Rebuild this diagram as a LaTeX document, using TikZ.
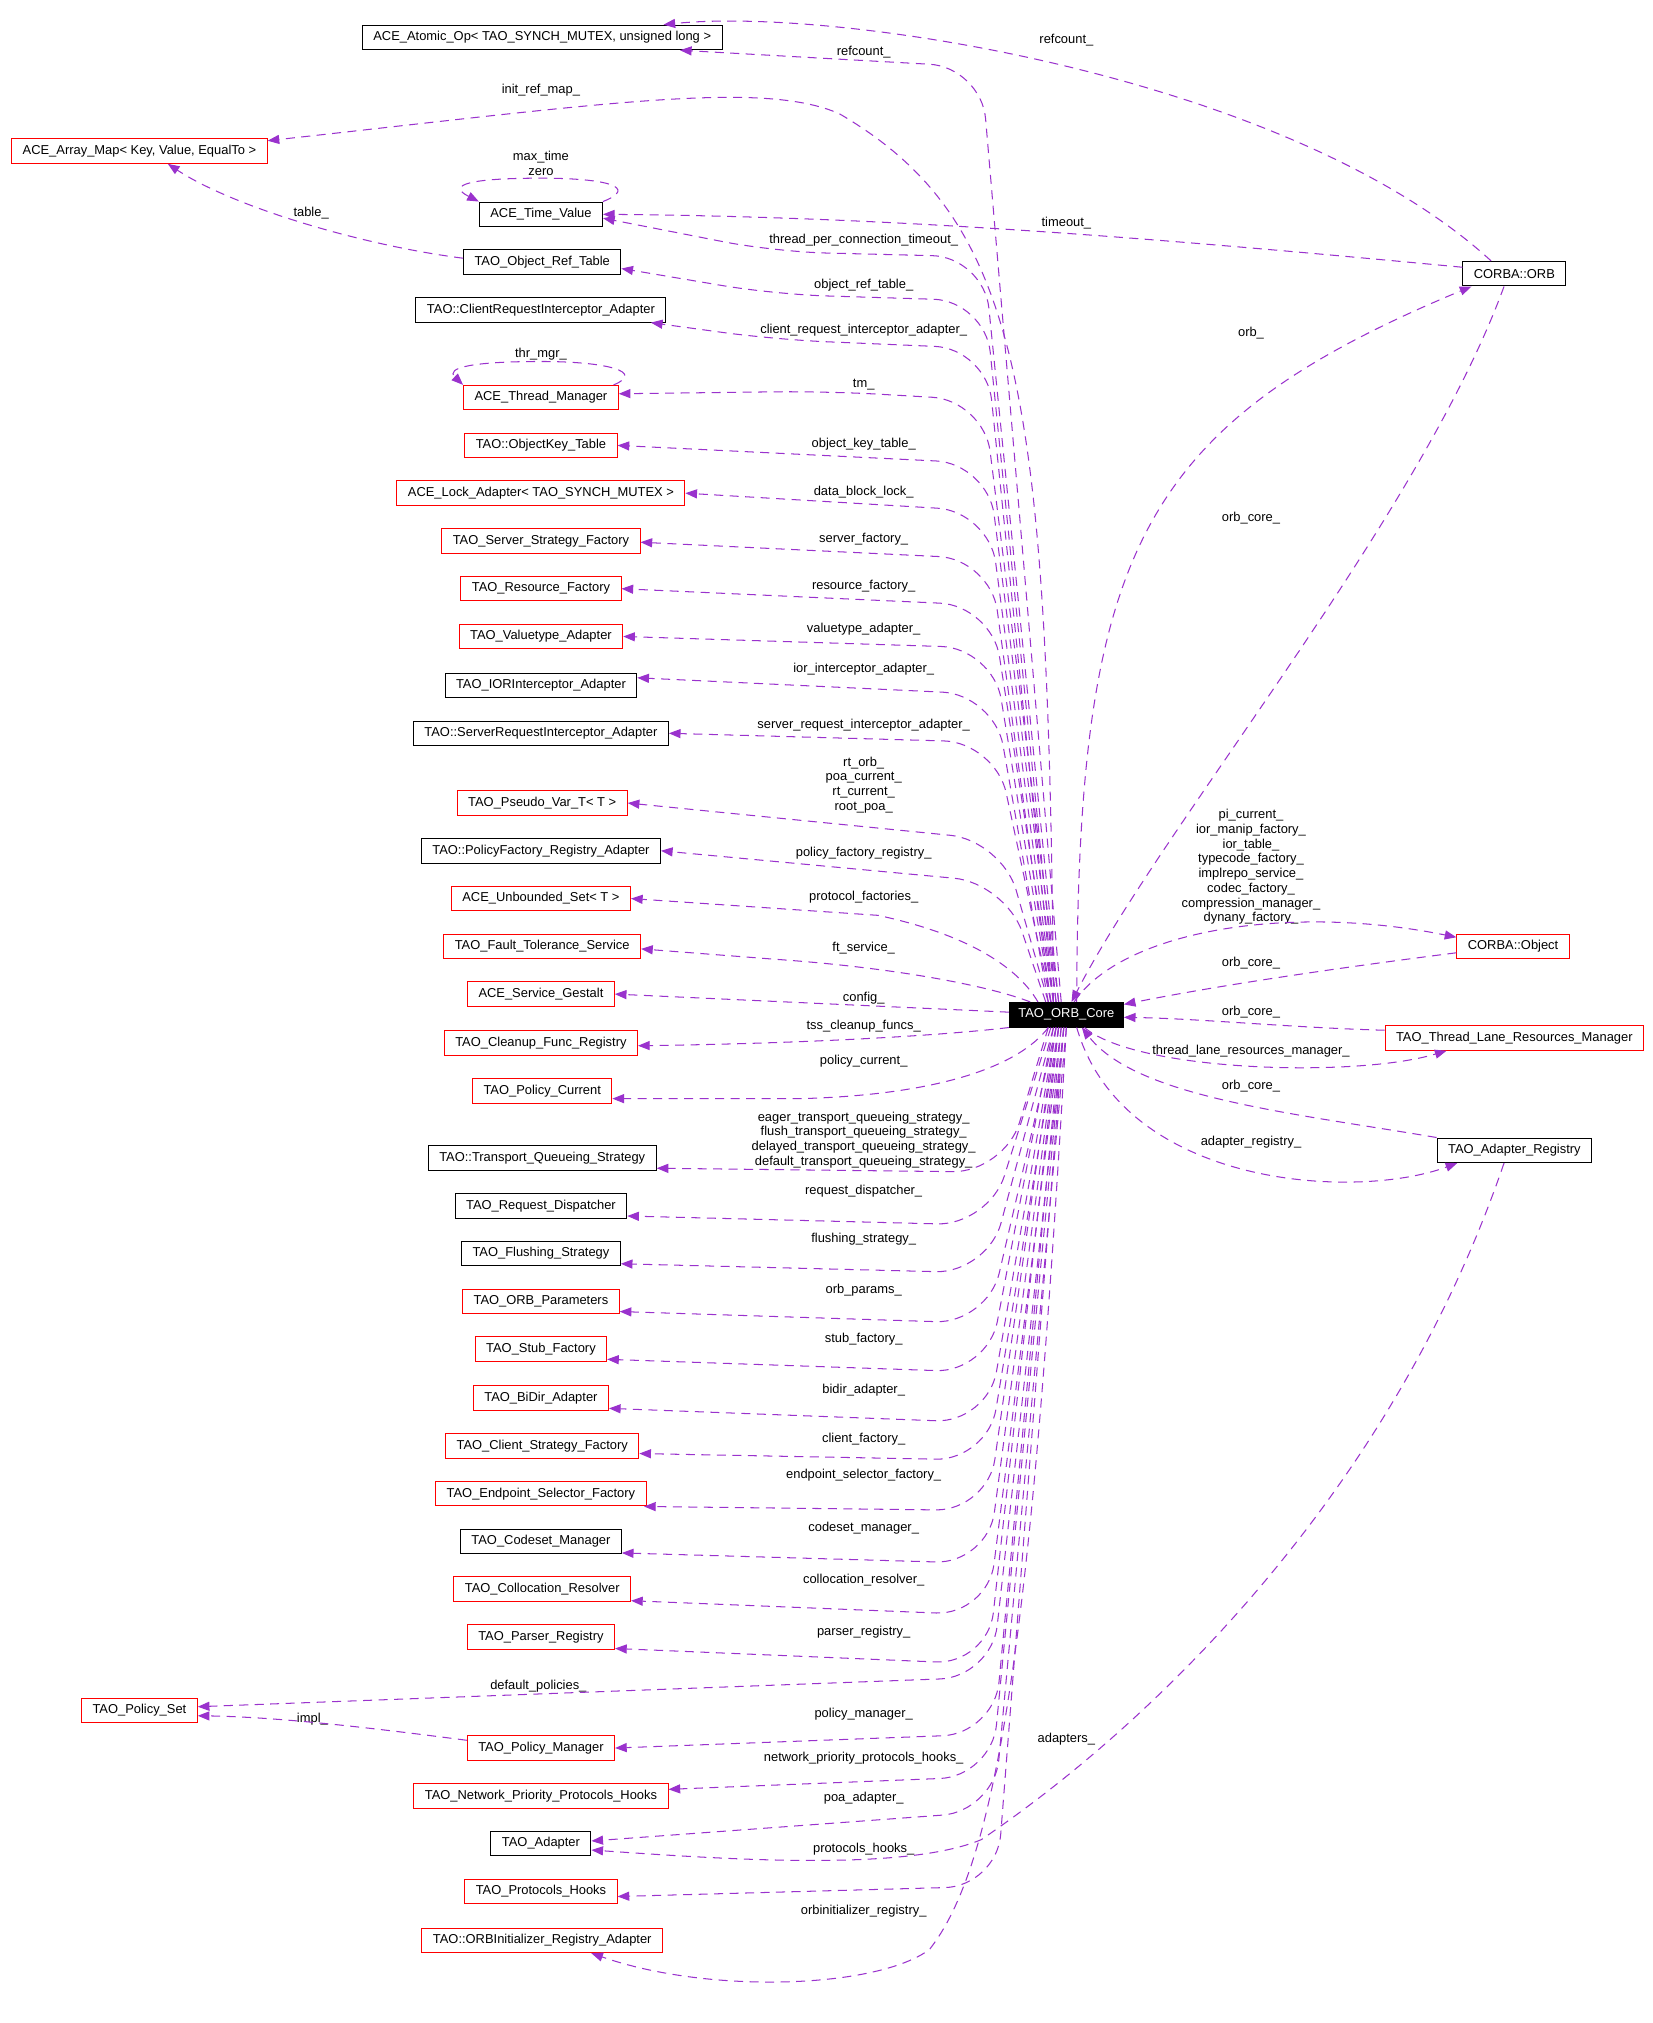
\documentclass[tikz,border=0pt]{standalone}
\usepackage{fontspec}
\setmainfont{Liberation Sans}
\usepackage{tikz}
\usetikzlibrary{arrows.meta}
\definecolor{depcolor}{RGB}{154,50,205}

\begin{document}
\begin{tikzpicture}[x=1pt, y=-1pt,
    classbox/.style={draw, line width=0.8pt, minimum height=19pt, inner xsep=8.5pt, inner ysep=2pt,
      font=\fontsize{10}{12}\selectfont},
    blackbox/.style={classbox, draw=black},
    redbox/.style={classbox, draw=red},
    corebox/.style={classbox, draw=black, fill=black, text=white, inner xsep=7pt},
    lbl/.style={inner sep=0pt, align=center, font=\fontsize{10}{11.4}\selectfont},
    dep/.style={draw=depcolor, line width=0.8pt, dash pattern=on 7pt off 5pt,
      -{Triangle[length=9pt,width=7pt]}},
    depbent/.style={dep, rounded corners=40pt}]
  \path[fill=white, use as bounding box] (0,0) rectangle (1280,1567);

  % classes
  \node[corebox] (core) at (826,786) {TAO\_ORB\_Core};
  \node[blackbox] (atomic) at (420,29) {ACE\_Atomic\_Op< TAO\_SYNCH\_MUTEX, unsigned long >};
  \node[redbox] (arraymap) at (108,117) {ACE\_Array\_Map< Key, Value, EqualTo >};
  \node[blackbox] (timevalue) at (419,166) {ACE\_Time\_Value};
  \node[blackbox] (objreftable) at (420,203) {TAO\_Object\_Ref\_Table};
  \node[blackbox] (clientreq) at (419,240) {TAO::ClientRequestInterceptor\_Adapter};
  \node[redbox] (threadmgr) at (419,308) {ACE\_Thread\_Manager};
  \node[redbox] (objkeytable) at (419,345) {TAO::ObjectKey\_Table};
  \node[redbox] (lockadapter) at (419,382) {ACE\_Lock\_Adapter< TAO\_SYNCH\_MUTEX >};
  \node[redbox] (serverfactory) at (419,419) {TAO\_Server\_Strategy\_Factory};
  \node[redbox] (resourcefactory) at (419,456) {TAO\_Resource\_Factory};
  \node[redbox] (valuetype) at (419,493) {TAO\_Valuetype\_Adapter};
  \node[blackbox] (iorinterceptor) at (419,531) {TAO\_IORInterceptor\_Adapter};
  \node[blackbox] (serverreq) at (419,568) {TAO::ServerRequestInterceptor\_Adapter};
  \node[redbox] (pseudovar) at (420,622) {TAO\_Pseudo\_Var\_T< T >};
  \node[blackbox] (policyfactory) at (419,659) {TAO::PolicyFactory\_Registry\_Adapter};
  \node[redbox] (unboundedset) at (419,696) {ACE\_Unbounded\_Set< T >};
  \node[redbox] (faulttol) at (420,733) {TAO\_Fault\_Tolerance\_Service};
  \node[redbox] (gestalt) at (419,770) {ACE\_Service\_Gestalt};
  \node[redbox] (cleanup) at (419,808) {TAO\_Cleanup\_Func\_Registry};
  \node[redbox] (policycurrent) at (420,845) {TAO\_Policy\_Current};
  \node[blackbox] (transport) at (420,897) {TAO::Transport\_Queueing\_Strategy};
  \node[blackbox] (requestdisp) at (419,934) {TAO\_Request\_Dispatcher};
  \node[blackbox] (flushing) at (419,971) {TAO\_Flushing\_Strategy};
  \node[redbox] (orbparams) at (419,1008) {TAO\_ORB\_Parameters};
  \node[redbox] (stubfactory) at (419,1045) {TAO\_Stub\_Factory};
  \node[redbox] (bidir) at (419,1083) {TAO\_BiDir\_Adapter};
  \node[redbox] (clientfactory) at (420,1120) {TAO\_Client\_Strategy\_Factory};
  \node[redbox] (endpoint) at (419,1157) {TAO\_Endpoint\_Selector\_Factory};
  \node[blackbox] (codeset) at (419,1194) {TAO\_Codeset\_Manager};
  \node[redbox] (collocation) at (420,1231) {TAO\_Collocation\_Resolver};
  \node[redbox] (parser) at (419,1268) {TAO\_Parser\_Registry};
  \node[redbox] (policyset) at (108,1325) {TAO\_Policy\_Set};
  \node[redbox] (policymgr) at (419,1354) {TAO\_Policy\_Manager};
  \node[redbox] (network) at (419,1391) {TAO\_Network\_Priority\_Protocols\_Hooks};
  \node[blackbox] (adapter) at (419,1428) {TAO\_Adapter};
  \node[redbox] (protohooks) at (419,1465) {TAO\_Protocols\_Hooks};
  \node[redbox] (orbinit) at (420,1503) {TAO::ORBInitializer\_Registry\_Adapter};
  \node[blackbox] (orb) at (1173,212) {CORBA::ORB};
  \node[redbox] (object) at (1172,733) {CORBA::Object};
  \node[redbox] (tlrm) at (1173,804) {TAO\_Thread\_Lane\_Resources\_Manager};
  \node[blackbox] (adapterreg) at (1173,891) {TAO\_Adapter\_Registry};

  % member labels
  \node[lbl] (lrefcounta) at (669,40) {refcount\_};
  \node[lbl] (lrefcountb) at (826,31) {refcount\_};
  \node[lbl] (linitref) at (419,70) {init\_ref\_map\_};
  \node[lbl] (lmaxtime) at (419,126.5) {max\_time\\zero};
  \node[lbl] (ltimeout) at (826,173) {timeout\_};
  \node[lbl] (ltpct) at (669,186) {thread\_per\_connection\_timeout\_};
  \node[lbl] (ltable) at (241,165) {table\_};
  \node[lbl] (lobjref) at (669,221) {object\_ref\_table\_};
  \node[lbl] (lclientreq) at (669,256) {client\_request\_interceptor\_adapter\_};
  \node[lbl] (lthrmgr) at (419,274) {thr\_mgr\_};
  \node[lbl] (ltm) at (669,298) {tm\_};
  \node[lbl] (lobjkey) at (669,344) {object\_key\_table\_};
  \node[lbl] (ldatablock) at (669,381) {data\_block\_lock\_};
  \node[lbl] (lserverfac) at (669,417.5) {server\_factory\_};
  \node[lbl] (lresfac) at (669,454) {resource\_factory\_};
  \node[lbl] (lvaluetype) at (669,487.5) {valuetype\_adapter\_};
  \node[lbl] (lior) at (669,518.5) {ior\_interceptor\_adapter\_};
  \node[lbl] (lserverreq) at (669,562) {server\_request\_interceptor\_adapter\_};
  \node[lbl] (lpseudo) at (669,608) {rt\_orb\_\\poa\_current\_\\rt\_current\_\\root\_poa\_};
  \node[lbl] (lpolfac) at (669,661) {policy\_factory\_registry\_};
  \node[lbl] (lprotfac) at (669,695) {protocol\_factories\_};
  \node[lbl] (lft) at (669,734) {ft\_service\_};
  \node[lbl] (lconfig) at (669,773.5) {config\_};
  \node[lbl] (ltss) at (669,795) {tss\_cleanup\_funcs\_};
  \node[lbl] (lpolcur) at (669,822) {policy\_current\_};
  \node[lbl] (ltransport) at (669,883) {eager\_transport\_queueing\_strategy\_\\flush\_transport\_queueing\_strategy\_\\delayed\_transport\_queueing\_strategy\_\\default\_transport\_queueing\_strategy\_};
  \node[lbl] (lreqdisp) at (669,923) {request\_dispatcher\_};
  \node[lbl] (lflush) at (669,960) {flushing\_strategy\_};
  \node[lbl] (lorbparams) at (669,999) {orb\_params\_};
  \node[lbl] (lstub) at (669,1037) {stub\_factory\_};
  \node[lbl] (lbidir) at (669,1077) {bidir\_adapter\_};
  \node[lbl] (lclientfac) at (669,1114.5) {client\_factory\_};
  \node[lbl] (lendpoint) at (669,1142.5) {endpoint\_selector\_factory\_};
  \node[lbl] (lcodeset) at (669,1184) {codeset\_manager\_};
  \node[lbl] (lcolloc) at (669,1224) {collocation\_resolver\_};
  \node[lbl] (lparser) at (669,1264) {parser\_registry\_};
  \node[lbl] (ldefpol) at (417,1306) {default\_policies\_};
  \node[lbl] (limpl) at (242,1332) {impl\_};
  \node[lbl] (lpolmgr) at (669,1328) {policy\_manager\_};
  \node[lbl] (lnetwork) at (669,1362) {network\_priority\_protocols\_hooks\_};
  \node[lbl] (lpoa) at (669,1393) {poa\_adapter\_};
  \node[lbl] (ladapters) at (826,1347) {adapters\_};
  \node[lbl] (lprothooks) at (669,1432) {protocols\_hooks\_};
  \node[lbl] (lorbinit) at (669,1480) {orbinitializer\_registry\_};
  \node[lbl] (lorb) at (969,258) {orb\_};
  \node[lbl] (lorbcorea) at (969,401) {orb\_core\_};
  \node[lbl] (lobject) at (969,671.5) {pi\_current\_\\ior\_manip\_factory\_\\ior\_table\_\\typecode\_factory\_\\implrepo\_service\_\\codec\_factory\_\\compression\_manager\_\\dynany\_factory\_};
  \node[lbl] (lorbcoreb) at (969,746) {orb\_core\_};
  \node[lbl] (lorbcorec) at (969,784) {orb\_core\_};
  \node[lbl] (ltlrm) at (969,814.5) {thread\_lane\_resources\_manager\_};
  \node[lbl] (lorbcored) at (969,841) {orb\_core\_};
  \node[lbl] (ladapterreg) at (969,884.5) {adapter\_registry\_};

  % members of TAO_ORB_Core, upper half
  \draw[depbent] ([xshift=-4pt]core.north) -- (760,52) -- ([xshift=-33pt]atomic.south east);
  \draw[dep] ([xshift=-10pt]core.north) .. controls (812,300) and (790,170) .. (650,88)
    .. controls (590,62) and (470,80) .. ([yshift=8pt]arraymap.east);
  \draw[depbent] ([xshift=-6pt]core.north) -- (762,199) -- (600,195) -- ([yshift=-3pt]timevalue.east);
  \draw[depbent] ([xshift=-8pt]core.north) -- (763,233) -- (600,228) -- ([yshift=-5pt]objreftable.east);
  \draw[depbent] ([xshift=-10pt]core.north) -- (764,270) -- (600,263) -- ([xshift=-12pt]clientreq.south east);
  \draw[depbent] ([xshift=-6pt]core.north) -- (762,310) -- (640,303) -- ([yshift=3pt]threadmgr.east);
  \draw[depbent] ([xshift=-8pt]core.north) -- (765,359) -- (objkeytable.east);
  \draw[depbent] ([xshift=-10pt]core.north) -- (766,396) -- (lockadapter.east);
  \draw[depbent] ([xshift=-12pt]core.north) -- (767,433) -- ([yshift=-1pt]serverfactory.east);
  \draw[depbent] ([xshift=-10pt]core.north) -- (768,469) -- (resourcefactory.east);
  \draw[depbent] ([xshift=-12pt]core.north) -- (769,502) -- (valuetype.east);
  \draw[depbent] ([xshift=-14pt]core.north) -- (770,538) -- ([yshift=6pt]iorinterceptor.east);
  \draw[depbent] ([xshift=-12pt]core.north) -- (771,575) -- (serverreq.east);
  \draw[depbent] ([xshift=-14pt]core.north) -- (776,651) -- (pseudovar.east);
  \draw[depbent] ([xshift=-16pt]core.north) -- (779,684) -- (policyfactory.east);
  \draw[dep] ([xshift=-22pt]core.north) .. controls (790,752) and (755,725) .. (680,709) -- (unboundedset.east);
  \draw[dep] ([xshift=-28pt]core.north) .. controls (770,765) and (700,750) .. (600,743) -- ([yshift=-2pt]faulttol.east);
  \draw[dep] ([yshift=2pt]core.west) -- (gestalt.east);
  \draw[dep] (core.south west) .. controls (740,801) and (640,808) .. ([yshift=-2pt]cleanup.east);
  \draw[dep] ([xshift=-14pt]core.south) .. controls (790,825) and (730,848) .. (620,851) -- ([yshift=-6pt]policycurrent.east);

  % members of TAO_ORB_Core, lower half
  \draw[depbent] ([xshift=-14pt]core.south) -- (778,908) -- ([yshift=2pt]transport.south east);
  \draw[depbent] ([xshift=-12pt]core.south) -- (766,949) -- ([yshift=2pt]requestdisp.south east);
  \draw[depbent] ([xshift=-10pt]core.south) -- (765,986) -- ([yshift=2pt]flushing.south east);
  \draw[depbent] ([xshift=-8pt]core.south) -- (765,1025) -- ([yshift=2pt]orbparams.south east);
  \draw[depbent] ([xshift=-10pt]core.south) -- (765,1063) -- ([yshift=2pt]stubfactory.south east);
  \draw[depbent] ([xshift=-8pt]core.south) -- (765,1102) -- ([yshift=2pt]bidir.south east);
  \draw[depbent] ([xshift=-6pt]core.south) -- (765,1131) -- ([yshift=4pt]clientfactory.south east);
  \draw[depbent] ([xshift=-8pt]core.south) -- (765,1170) -- ([xshift=-2pt]endpoint.south east);
  \draw[depbent] ([xshift=-6pt]core.south) -- (765,1211) -- ([yshift=1pt]codeset.south east);
  \draw[depbent] ([xshift=-4pt]core.south) -- (765,1251) -- ([yshift=1pt]collocation.south east);
  \draw[depbent] ([xshift=-6pt]core.south) -- (765,1289) -- ([yshift=1pt]parser.south east);
  \draw[depbent] ([xshift=-2pt]core.south) -- (768,1299) -- ([yshift=3pt]policyset.east);
  \draw[depbent] ([xshift=-4pt]core.south) -- (770,1343) -- (policymgr.east);
  \draw[depbent] ([xshift=-2pt]core.south) -- (768,1376) -- ([yshift=5pt]network.east);
  \draw[depbent] (core.south) -- (770,1403) -- ([yshift=2pt]adapter.east);
  \draw[depbent] ([xshift=-2pt]core.south) -- (772,1461) -- ([yshift=-4pt]protohooks.east);
  \draw[dep] (core.south) .. controls (800,1250) and (775,1440) .. (720,1510)
    .. controls (680,1540) and (550,1545) .. ([xshift=38pt]orbinit.south);

  % other members
  \draw[dep] (timevalue.north east) .. controls (495,145) and (470,138) .. (419,138)
    .. controls (365,138) and (345,143) .. (timevalue.north west);
  \draw[dep] ([xshift=-4pt]threadmgr.north east) .. controls (500,288) and (470,280) .. (419,280)
    .. controls (365,280) and (345,285) .. (threadmgr.north west);
  \draw[dep] ([yshift=3pt]objreftable.west) .. controls (280,190) and (180,160) .. ([xshift=22pt]arraymap.south);
  \draw[dep] ([yshift=6pt]policymgr.west) .. controls (300,1340) and (220,1330) .. ([yshift=-4pt]policyset.east);
  \draw[dep] ([xshift=-18pt]orb.north) .. controls (1000,60) and (650,5) .. ([xshift=94pt]atomic.north);
  \draw[dep] ([yshift=5pt]orb.west) .. controls (900,185) and (700,168) .. (timevalue.east);
  \draw[dep] ([xshift=-8pt]orb.south) .. controls (1100,400) and (900,640) .. ([xshift=4pt]core.north);
  \draw[dep] ([xshift=8pt]core.north) .. controls (835,430) and (880,330) .. ([xshift=7pt]orb.south west);
  \draw[dep] ([xshift=6pt]core.north) .. controls (870,720) and (1000,700) .. ([yshift=7pt]object.west);
  \draw[dep] ([yshift=-5pt]object.west) .. controls (1050,748) and (950,762) .. ([yshift=8pt]core.east);
  \draw[dep] ([yshift=6pt]tlrm.west) .. controls (1000,796) and (930,789) .. ([yshift=-2pt]core.east);
  \draw[dep] ([xshift=14pt]core.south) .. controls (880,830) and (1050,835) .. ([xshift=48pt]tlrm.south west);
  \draw[dep] (adapterreg.north west) .. controls (1000,862) and (880,850) .. ([xshift=12pt]core.south);
  \draw[dep] ([xshift=8pt]core.south) .. controls (870,920) and (1050,930) .. ([xshift=16pt]adapterreg.south west);
  \draw[dep] ([xshift=-8pt]adapterreg.south) .. controls (1080,1150) and (900,1330) .. (760,1425)
    .. controls (700,1450) and (560,1440) .. ([yshift=-5pt]adapter.east);
\end{tikzpicture}
\end{document}
